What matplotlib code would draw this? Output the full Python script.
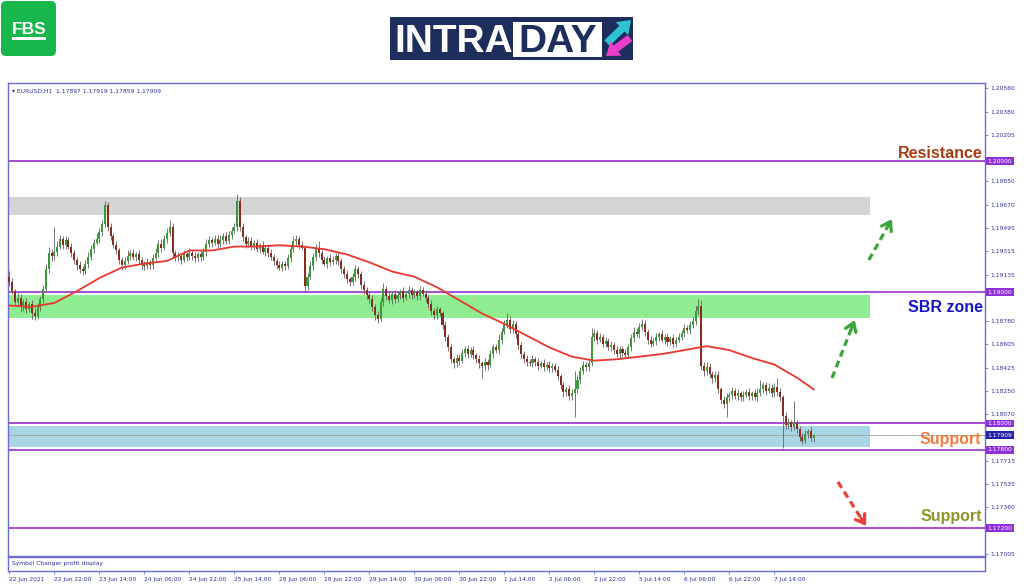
import numpy as np
import matplotlib
matplotlib.use('Agg')
import matplotlib.pyplot as plt
import matplotlib.transforms as mtransforms
from matplotlib.patches import FancyBboxPatch, Rectangle

# EURUSD H1, 22 Jun 06:00 -> 8 Jul 04:00 (closes)
first_open = 1.1912
closes = [
    1.1908, 1.1901, 1.1893, 1.1896, 1.1889, 1.1893, 1.1887, 1.1891, 1.1884, 1.1882,
    1.1889, 1.1895, 1.1903, 1.1918, 1.1930, 1.1928, 1.1931, 1.1935, 1.1941, 1.1936,
    1.1940, 1.1935, 1.1930, 1.1925, 1.1921, 1.1918, 1.1916, 1.1922, 1.1927, 1.1933,
    1.1938, 1.1941, 1.1946, 1.1952, 1.1967, 1.1950, 1.1943, 1.1936, 1.1932, 1.1925,
    1.1921, 1.1924, 1.1928, 1.1930, 1.1927, 1.1929, 1.1925, 1.1922, 1.1920, 1.1923,
    1.1921, 1.1926, 1.1930, 1.1937, 1.1934, 1.1941, 1.1945, 1.1950, 1.1930, 1.1927,
    1.1928, 1.1925, 1.1929, 1.1927, 1.1930, 1.1928, 1.1926, 1.1929, 1.1927, 1.1931,
    1.1937, 1.1940, 1.1938, 1.1941, 1.1937, 1.1940, 1.1943, 1.1939, 1.1944, 1.1947,
    1.1950, 1.1970, 1.1950, 1.1942, 1.1937, 1.1939, 1.1935, 1.1938, 1.1933, 1.1936,
    1.1931, 1.1934, 1.1930, 1.1927, 1.1924, 1.1921, 1.1919, 1.1922, 1.1920, 1.1926,
    1.1933, 1.1939, 1.1941, 1.1936, 1.1934, 1.1905, 1.1912, 1.1920, 1.1927, 1.1934,
    1.1930, 1.1925, 1.1922, 1.1926, 1.1923, 1.1925, 1.1928, 1.1924, 1.1918, 1.1914,
    1.1910, 1.1908, 1.1912, 1.1918, 1.1914, 1.1906, 1.1902, 1.1898, 1.1895, 1.1889,
    1.1883, 1.1880, 1.1893, 1.1903, 1.1897, 1.1894, 1.1899, 1.1895, 1.1898, 1.1901,
    1.1896, 1.1899, 1.1902, 1.1898, 1.1900, 1.1897, 1.1902, 1.1899, 1.1896, 1.1891,
    1.1886, 1.1883, 1.1887, 1.1884, 1.1875, 1.1866, 1.1858, 1.1849, 1.1846, 1.1850,
    1.1848, 1.1854, 1.1857, 1.1853, 1.1856, 1.1852, 1.1849, 1.1846, 1.1844, 1.1847,
    1.1845, 1.1853, 1.1858, 1.1856, 1.1864, 1.1870, 1.1876, 1.1879, 1.1872, 1.1876,
    1.1868, 1.1860, 1.1853, 1.1849, 1.1847, 1.1846, 1.1849, 1.1847, 1.1844, 1.1846,
    1.1843, 1.1845, 1.1842, 1.1844, 1.1841, 1.1836, 1.1829, 1.1824, 1.1826, 1.1821,
    1.1823, 1.1826, 1.1833, 1.1840, 1.1845, 1.1843, 1.1846, 1.1866, 1.1869, 1.1864,
    1.1866, 1.1861, 1.1863, 1.1858, 1.1860, 1.1856, 1.1853, 1.1857, 1.1854, 1.1852,
    1.1858, 1.1865, 1.1870, 1.1868, 1.1874, 1.1876, 1.1870, 1.1864, 1.1861, 1.1863,
    1.1866, 1.1868, 1.1864, 1.1866, 1.1862, 1.1865, 1.1861, 1.1864, 1.1866, 1.1869,
    1.1873, 1.1871, 1.1875, 1.1878, 1.1886, 1.1890, 1.1844, 1.1840, 1.1843, 1.1838,
    1.1835, 1.1837, 1.1826, 1.1818, 1.1815, 1.1820, 1.1822, 1.1825, 1.1821, 1.1823,
    1.1820, 1.1822, 1.1824, 1.1821, 1.1823, 1.1820, 1.1823, 1.1826, 1.1829, 1.1825,
    1.1827, 1.1823, 1.1828, 1.1824, 1.1820, 1.1806, 1.1799, 1.1801, 1.1797, 1.1800,
    1.1796, 1.1790, 1.1787, 1.1792, 1.1794, 1.1789, 1.1791,
]
# wick lengths in pips above / below the body
up_wick = [
    4, 3, 2, 4, 3, 2, 3, 2, 3, 4, 3, 2, 3, 4, 5, 3, 19, 4, 3, 2,
    3, 2, 3, 2, 2, 3, 2, 3, 4, 3, 3, 4, 3, 3, 3, 2, 3, 2, 3, 2,
    2, 3, 4, 2, 3, 2, 3, 2, 2, 3, 2, 3, 4, 3, 4, 3, 4, 5, 3, 2,
    3, 2, 3, 2, 4, 2, 3, 2, 3, 3, 4, 3, 2, 3, 3, 4, 2, 3, 3, 3,
    3, 5, 3, 3, 2, 3, 3, 2, 3, 2, 3, 2, 2, 3, 2, 2, 3, 2, 2, 3,
    3, 4, 3, 2, 3, 2, 3, 4, 3, 3, 5, 2, 3, 2, 3, 3, 2, 3, 2, 2,
    3, 2, 3, 3, 2, 2, 3, 2, 2, 3, 2, 3, 3, 4, 2, 3, 2, 3, 3, 2,
    3, 2, 3, 2, 3, 2, 3, 2, 3, 2, 3, 2, 3, 2, 2, 3, 2, 3, 2, 3,
    3, 3, 2, 3, 2, 3, 2, 3, 2, 3, 2, 3, 3, 3, 4, 3, 3, 5, 3, 3,
    2, 3, 2, 2, 3, 2, 3, 2, 3, 2, 3, 2, 3, 2, 2, 3, 2, 3, 2, 3,
    3, 14, 4, 3, 3, 2, 3, 7, 3, 2, 3, 2, 3, 2, 3, 2, 3, 2, 2, 3,
    3, 3, 4, 3, 3, 4, 3, 2, 3, 2, 3, 2, 3, 2, 3, 2, 3, 2, 3, 2,
    3, 2, 3, 3, 4, 5, 4, 3, 4, 3, 2, 3, 3, 2, 3, 3, 2, 3, 2, 3,
    2, 3, 2, 3, 2, 3, 4, 7, 3, 3, 4, 3, 3, 7, 3, 2, 3, 3, 2, 17,
    3, 2, 3, 3, 2, 3, 1,
]
down_wick = [
    3, 2, 3, 3, 4, 3, 3, 2, 4, 3, 2, 3, 3, 2, 3, 4, 3, 3, 2, 3,
    3, 2, 3, 3, 4, 3, 3, 2, 3, 2, 3, 2, 3, 3, 2, 3, 3, 2, 3, 3,
    4, 3, 2, 3, 2, 3, 3, 4, 3, 2, 3, 3, 2, 3, 3, 2, 3, 2, 4, 3,
    3, 3, 2, 3, 2, 3, 3, 2, 3, 2, 3, 2, 3, 2, 3, 2, 3, 2, 2, 3,
    2, 3, 3, 3, 3, 2, 3, 3, 2, 3, 2, 3, 3, 2, 3, 3, 2, 3, 3, 2,
    3, 2, 3, 3, 2, 5, 3, 2, 3, 3, 3, 3, 2, 3, 3, 2, 3, 3, 3, 3,
    3, 3, 2, 3, 3, 3, 3, 3, 3, 3, 4, 3, 2, 3, 3, 2, 3, 3, 2, 3,
    3, 2, 3, 3, 2, 3, 3, 2, 3, 3, 3, 3, 3, 2, 3, 3, 3, 3, 4, 3,
    3, 2, 3, 3, 2, 3, 3, 4, 9, 3, 4, 2, 3, 2, 3, 3, 2, 3, 3, 3,
    3, 3, 3, 3, 3, 2, 3, 3, 3, 2, 3, 2, 3, 3, 2, 3, 3, 4, 3, 3,
    3, 18, 3, 3, 2, 3, 3, 2, 3, 3, 2, 3, 3, 2, 3, 3, 2, 3, 3, 2,
    2, 3, 3, 2, 3, 3, 3, 3, 3, 2, 3, 3, 2, 3, 3, 2, 3, 3, 2, 2,
    3, 2, 3, 2, 3, 3, 3, 4, 3, 3, 4, 3, 3, 3, 3, 10, 3, 3, 2, 3,
    3, 3, 2, 3, 3, 2, 3, 2, 3, 3, 2, 3, 3, 3, 3, 25, 3, 3, 3, 2,
    3, 3, 3, 2, 3, 2, 3,
]
# moving average, read every 8 bars
ma_bars = list(range(0, 281, 8)) + [286]
ma_values = [
    1.1890, 1.1889, 1.1892, 1.1901, 1.1911, 1.1919, 1.1922, 1.1924, 1.1932, 1.1932,
    1.1935, 1.1935, 1.1936, 1.1935, 1.1933, 1.1929, 1.1923, 1.1916, 1.1912, 1.1904,
    1.1894, 1.1884, 1.1876, 1.1867, 1.1858, 1.1851, 1.1848, 1.1849, 1.1851, 1.1853,
    1.1856, 1.1859, 1.1856, 1.1850, 1.1845, 1.1835, 1.1826,
]

# scale labels that are not covered by the level boxes
tick_prices = [1.20560, 1.20380, 1.20205, 1.19850, 1.19670, 1.19495,
               1.19315, 1.19135, 1.18780, 1.18605, 1.18425, 1.18250,
               1.18070, 1.17715, 1.17535, 1.17360, 1.17005]
time_labels = ["22 Jun 2021", "22 Jun 22:00", "23 Jun 14:00", "24 Jun 06:00",
               "24 Jun 22:00", "25 Jun 14:00", "28 Jun 06:00", "28 Jun 22:00",
               "29 Jun 14:00", "30 Jun 06:00", "30 Jun 22:00", "1 Jul 14:00",
               "2 Jul 06:00", "2 Jul 22:00", "5 Jul 14:00", "6 Jul 06:00",
               "6 Jul 22:00", "7 Jul 14:00"]
level_prices = [1.2000, 1.1900, 1.1800, 1.1780, 1.1720]
last_price = 1.17909
zone_gray = (1.19591, 1.19728)
zone_green = (1.18805, 1.18980)
zone_blue = (1.17821, 1.17981)

FRAME = '#6b6bd0'
TXT = '#30309a'
LEVEL = '#a040d0'
LEVEL_BOX = '#9030d8'
UP = '#3a9a3a'
DOWN = '#8b2a1f'

fig = plt.figure(figsize=(10.24, 5.87), dpi=100)
ax = fig.add_axes([8 / 1024, 31 / 587, 977 / 1024, 473 / 587])
sub = fig.add_axes([8 / 1024, 16 / 587, 977 / 1024, 14 / 587], sharex=ax)

n = len(closes)
idx = np.arange(n)
c = np.array(closes)
o = np.array([first_open] + closes[:-1])
hi = np.maximum(o, c) + np.array(up_wick) * 0.0001
lo = np.minimum(o, c) - np.array(down_wick) * 0.0001
up = c >= o

zone_end = 0.882
ax.axhspan(*zone_gray, xmin=0, xmax=zone_end, color='#d4d4d4', lw=0, zorder=1)
ax.axhspan(*zone_green, xmin=0, xmax=zone_end, color='#90ec90', lw=0, zorder=1)
ax.axhspan(*zone_blue, xmin=0, xmax=zone_end, color='#a9d6e5', lw=0, zorder=1)
for p in level_prices:
    ax.axhline(p, color=LEVEL, lw=1.3, zorder=2)
ax.axhline(last_price, color='#a0a0a0', lw=0.6, zorder=2)

ax.vlines(idx, lo, hi, color='#606060', lw=0.6, zorder=3)
ax.bar(idx[up], (c - o)[up], bottom=o[up], width=0.72, color=UP, lw=0, zorder=4)
ax.bar(idx[~up], (o - c)[~up], bottom=c[~up], width=0.72, color=DOWN, lw=0, zorder=4)
ax.plot(ma_bars, ma_values, color='#e8372c', lw=1.3, zorder=5)

ax.set_xlim(-0.5, 346.9)
ax.set_ylim(1.16989, 1.20598)
ax.yaxis.tick_right()
ax.set_yticks(tick_prices)
ax.set_yticklabels(['%.5f' % t for t in tick_prices])
ax.tick_params(axis='y', length=2, width=0.6, color=FRAME, labelsize=4.3,
               labelcolor=TXT, pad=1.5)
ax.tick_params(axis='x', bottom=False, labelbottom=False)
for s in ax.spines.values():
    s.set_color(FRAME)
    s.set_linewidth(1.0)

ax.text(0.004, 0.988, '\u25be EURUSD,H1  1.17897 1.17919 1.17859 1.17909',
        transform=ax.transAxes, fontsize=4.3, color=TXT, va='top', ha='left')

# price boxes on the right scale
bt = mtransforms.blended_transform_factory(ax.transAxes, ax.transData)
for p in level_prices:
    ax.text(1.0025, p, '%.5f' % p, transform=bt, fontsize=4.3, color='white',
            va='center', ha='left', zorder=10,
            bbox=dict(boxstyle='square,pad=0.25', fc=LEVEL_BOX, ec='none'))
ax.text(1.0025, last_price, '%.5f' % last_price, transform=bt, fontsize=4.3,
        color='white', va='center', ha='left', zorder=10,
        bbox=dict(boxstyle='square,pad=0.25', fc='#2424a8', ec='none'))

# level captions
big = dict(family='Liberation Sans', weight='bold', fontsize=11.5,
           ha='right', va='baseline', transform=bt, zorder=9)
ax.text(0.9975, 1.20026, 'Resistance', color='#a83a14', **big)
ax.text(0.9975, 1.18851, 'SBR zone', color='#1414c8', **big)
ax.text(0.9955, 1.17844, 'Support', color='#f47a3c', **big)
ax.text(0.9965, 1.17256, 'Support', color='#8f9426', **big)

# dashed direction arrows (bar index, price)
arrows = [((305.6, 1.19248), (313.8, 1.19560), '#3aa53a'),
          ((292.5, 1.18347), (300.6, 1.18790), '#3aa53a'),
          ((294.6, 1.17554), (304.6, 1.17218), '#e8413b')]
for (x0, y0), (x1, y1), col in arrows:
    xb, yb = x1 - 0.18 * (x1 - x0), y1 - 0.18 * (y1 - y0)
    ax.plot([x0, xb], [y0, yb], color=col, lw=2.3, ls=(0, (2.2, 1.4)),
            solid_capstyle='butt', zorder=8)
    ax.annotate('', xy=(x1, y1), xytext=(xb, yb), zorder=8,
                arrowprops=dict(arrowstyle='->,head_length=0.6,head_width=0.4',
                                color=col, lw=2.3, shrinkA=0, shrinkB=0))

# indicator subwindow + time axis
sub.set_ylim(0, 1)
sub.set_yticks([])
sub.text(0.004, 0.5, 'Symbol Changer profit display', transform=sub.transAxes,
         fontsize=4.3, color=TXT, va='center', ha='left')
sub.set_xticks(np.arange(len(time_labels)) * 16)
sub.set_xticklabels(time_labels, ha='left')
sub.tick_params(axis='x', length=2.5, width=0.6, color=FRAME, labelsize=4.2,
                labelcolor=TXT, pad=1.5)
for s in sub.spines.values():
    s.set_color(FRAME)
    s.set_linewidth(1.0)

# logos, drawn in pixel coordinates
lg = fig.add_axes([0, 0, 1, 1])
lg.set_xlim(0, 1024)
lg.set_ylim(587, 0)
lg.axis('off')
lg.add_patch(FancyBboxPatch((1, 1), 55, 55, boxstyle='round,pad=0,rounding_size=5',
                            fc='#17b74c', ec='none'))
lg.text(29, 34, 'FBS', family='Liberation Sans', weight='bold', fontsize=12.5,
        color='white', ha='center', va='baseline')
lg.add_patch(Rectangle((12, 37), 34, 2.5, fc='white', ec='none'))

lg.add_patch(Rectangle((390, 17), 243, 43, fc='#1d2e5c', ec='none'))
lg.add_patch(Rectangle((513, 22), 89, 35, fc='white', ec='none'))
lg.text(394, 52.5, 'INTRA', family='Liberation Sans', weight='bold', fontsize=28,
        color='white', ha='left', va='baseline')
lg.text(557.5, 52.5, 'DAY', family='Liberation Sans', weight='bold', fontsize=28,
        color='#1d2e5c', ha='center', va='baseline')
lg.annotate('', xy=(631, 20), xytext=(607, 43),
            arrowprops=dict(arrowstyle='simple,head_width=1.3,head_length=0.9,tail_width=0.55',
                            fc='#2cc3d2', ec='none', shrinkA=0, shrinkB=0))
lg.annotate('', xy=(606, 56), xytext=(630, 38),
            arrowprops=dict(arrowstyle='simple,head_width=1.3,head_length=0.9,tail_width=0.55',
                            fc='#e83ec8', ec='none', shrinkA=0, shrinkB=0))

fig.savefig('out.png', dpi=100)
